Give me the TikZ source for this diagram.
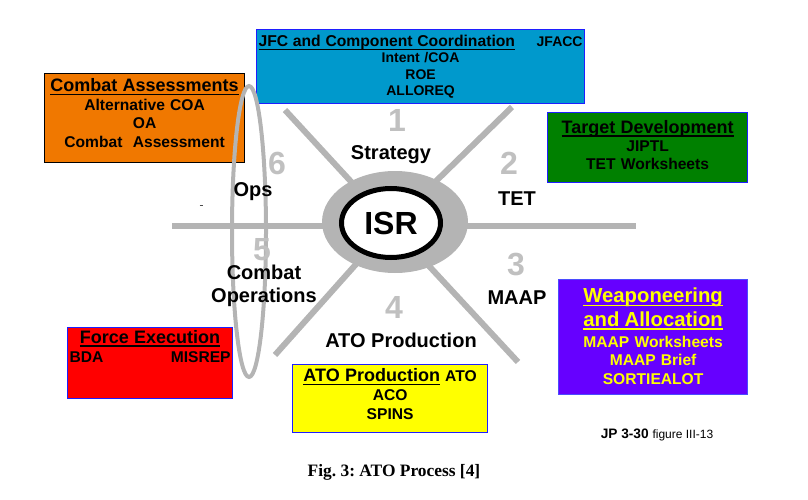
\documentclass[tikz,border=0pt]{standalone}
\usepackage{fontspec}
\setmainfont{Liberation Sans}
\newfontfamily\capfont{Liberation Serif}
\usepackage{tikz}
\usetikzlibrary{shapes, positioning}
\definecolor{jfcblue}{RGB}{0,153,204}
\definecolor{assessorange}{RGB}{240,120,0}
\definecolor{targetgreen}{RGB}{0,128,0}
\definecolor{weaponpurple}{RGB}{102,0,255}
\definecolor{forcered}{RGB}{255,0,0}
\definecolor{atoyellow}{RGB}{255,255,0}
\definecolor{edgeblue}{RGB}{30,30,255}
\definecolor{spokegray}{RGB}{180,180,180}
\definecolor{numgray}{RGB}{192,192,192}
\newcommand{\boxhead}{\fontsize{18}{18}\selectfont}
\newcommand{\headul}[1]{\leavevmode\setbox0=\hbox{#1}\rlap{\rule[-3.6pt]{\wd0}{1.5pt}}\box0}
\newcommand{\lift}[1]{\rule[-#1]{0pt}{#1}}
\tikzstyle{phasebox} = [rectangle, anchor=north west, inner sep=2pt, align=center, draw=edgeblue, line width=1.2pt, font=\bfseries\fontsize{15.6}{18.6}\selectfont]
\tikzstyle{spoke} = [draw=spokegray, line width=6pt]
\tikzstyle{phasenum} = [text=numgray, inner sep=0pt, font=\fontsize{32}{32}\selectfont\bfseries]
\tikzstyle{phaselabel} = [align=center, inner sep=0pt, font=\fontsize{20}{23.5}\selectfont\bfseries]

\begin{document}
\begin{tikzpicture}[x=1pt, y=-1pt, node distance=33pt]
\useasboundingbox (0,0) rectangle (808,500);
% product boxes
\node (jfc) [phasebox, fill=jfcblue, minimum width=328pt, minimum height=74pt, text width=324pt, font=\bfseries\fontsize{14}{16.3}\selectfont] at (256,29)
  {{\fontsize{15.7}{16}\selectfont\headul{JFC and Component Coordination}}\hfill JFACC\\ Intent /COA\\ ROE\\ ALLOREQ};
\node (assess) [phasebox, draw=black, fill=assessorange, minimum width=200pt, minimum height=89pt, text width=196pt] at (44,73)
  {{\boxhead\headul{Combat Assessments}}\\ Alternative COA\\ OA\\ Combat~ Assessment\lift{10pt}};
\node (target) [phasebox, fill=targetgreen, minimum width=200pt, minimum height=70pt, text width=196pt, font=\bfseries\fontsize{15.6}{18}\selectfont] at (547,112)
  {{\boxhead\headul{Target Development}}\\ JIPTL\\ TET Worksheets\lift{6pt}};
\node (weapon) [phasebox, draw=edgeblue!80!white, fill=weaponpurple, text=atoyellow, minimum width=189pt, minimum height=115pt, text width=185pt] at (558,279)
  {{\fontsize{20.3}{22}\selectfont\headul{Weaponeering}}\\[3.4pt]{\fontsize{20.3}{22}\selectfont\headul{and Allocation}}\\[2.4pt] MAAP Worksheets\\ MAAP Brief\\ SORTIEALOT\lift{2pt}};
\node (force) [phasebox, fill=forcered, minimum width=165pt, minimum height=71pt] at (67,327) {};
\node (forcetext) [anchor=north, inner sep=2pt, yshift=-1pt, align=center, text width=161pt, font=\bfseries\fontsize{15.6}{19}\selectfont] at (force.north)
  {{\boxhead\headul{Force Execution}}\\ BDA\hfill MISREP};
\node (atoprod) [phasebox, fill=atoyellow, minimum width=195pt, minimum height=68pt, text width=191pt, font=\bfseries\fontsize{15.6}{19}\selectfont] at (292,364)
  {{\boxhead\headul{ATO Production}} ATO\\ ACO\\ SPINS\lift{9pt}};
% spokes
\coordinate (hub) at (391,225);
\coordinate (armA) at (285,110);
\coordinate (armB) at (512,107);
\coordinate (armC) at (636,226);
\coordinate (armD) at (518,362);
\coordinate (armE) at (275,355);
\coordinate (armF) at (172,226);
\foreach \arm in {armA,armB,armD,armE}
  \draw[spoke] (hub) -- (\arm);
\draw[spoke] (armF) -- (armC);
% ops ring
\draw[spokegray, line width=4pt] (249,231.5) ellipse [x radius=17pt, y radius=145.5pt];
\draw[black!70, line width=0.8pt] (199.5,205) -- (202.5,205);
% hub
\node (isrring) [ellipse, fill=spokegray, minimum width=146pt, minimum height=102pt] at (395,222) {};
\node (isr) [ellipse, draw=black, line width=5pt, fill=white, minimum width=99pt, minimum height=69pt, inner sep=0pt, font=\fontsize{32}{32}\selectfont\bfseries] at (391,223) {ISR};
% phases
\node (num1) [phasenum] at (397,120) {1};
\node (strategy) [phaselabel, below of=num1, xshift=-6pt, yshift=-2pt] {Strategy};
\node (num2) [phasenum] at (509,163) {2};
\node (tet) [phaselabel, below of=num2, xshift=8pt, yshift=-3pt] {TET};
\node (num3) [phasenum] at (516,265) {3};
\node (maap) [phaselabel, below of=num3, xshift=1pt] {MAAP};
\node (num4) [phasenum] at (394,307) {4};
\node (atolabel) [phaselabel, below of=num4, xshift=7pt] {ATO Production};
\node (num5) [phasenum] at (262,250) {5};
\node (combat) [phaselabel, below of=num5, xshift=2pt, yshift=-3pt] {Combat\\Operations};
\node (num6) [phasenum] at (277,163) {6};
\node (ops) [phaselabel, below of=num6, xshift=-24pt, yshift=4pt] {Ops};
% source and caption
\node (source) [font=\fontsize{13.7}{14}\selectfont\bfseries] at (657,435) {JP 3-30 {\fontsize{12}{12}\selectfont\mdseries figure III-13}};
\node (caption) [font=\capfont\bfseries\fontsize{17.4}{18}\selectfont\frenchspacing] at (394,472) {Fig. 3: ATO Process [4]};
\end{tikzpicture}
\end{document}
